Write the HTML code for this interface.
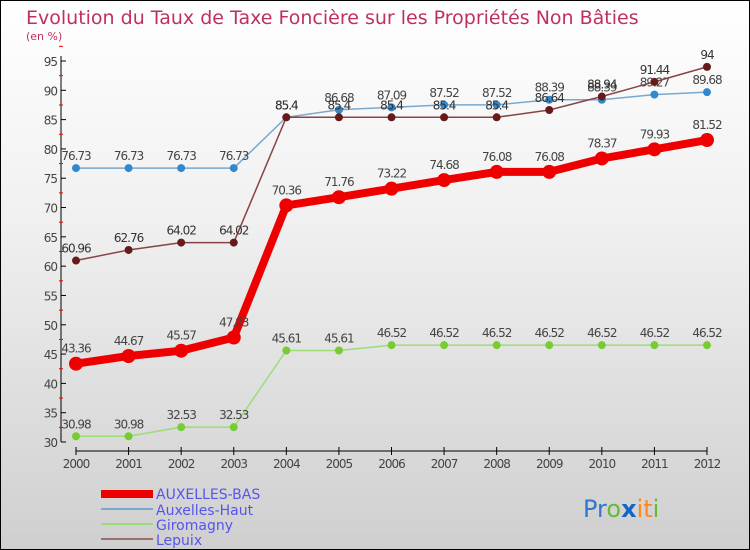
<!DOCTYPE html>
<html><head><meta charset="utf-8"><style>
body{margin:0}
#c{width:748px;height:548px;border:1px solid #000;background:linear-gradient(#fff,#f0f0f0 40%,#cfcfcf);position:relative;font-family:"DejaVu Sans","Liberation Sans",sans-serif;overflow:hidden}
svg text{font-family:"DejaVu Sans","Liberation Sans",sans-serif}
</style></head><body>
<div id="c">
<svg id="s" width="748" height="548">
<text x="25" y="23" font-size="19" fill="#c0305f">Evolution du Taux de Taxe Foncière sur les Propriétés Non Bâties</text>
<text x="25" y="39" font-size="11" fill="#c0305f">(en %)</text>
<g id="plot"></g>
<g>
<rect x="100" y="489" width="52" height="8" fill="#e00"/>
<text x="155" y="498" font-size="14" fill="#5555ee">AUXELLES-BAS</text>
<line x1="100" y1="508" x2="152" y2="508" stroke="#7aa8cc" stroke-width="2"/>
<text x="155" y="514" font-size="14" fill="#5555ee">Auxelles-Haut</text>
<line x1="100" y1="523" x2="152" y2="523" stroke="#99dd77" stroke-width="2"/>
<text x="155" y="529" font-size="14" fill="#5555ee">Giromagny</text>
<line x1="100" y1="538" x2="152" y2="538" stroke="#997070" stroke-width="2"/>
<text x="155" y="544" font-size="14" fill="#5555ee">Lepuix</text>
</g>
<text x="582" y="516" font-size="24"><tspan fill="#3377cc">Pr</tspan><tspan fill="#66bb33">o</tspan><tspan fill="#1166cc" font-weight="bold">x</tspan><tspan fill="#ff8822">it</tspan><tspan fill="#66bb33">i</tspan></text>
</svg></div>
<script>
const years=[2000,2001,2002,2003,2004,2005,2006,2007,2008,2009,2010,2011,2012];
const yTicks=[30,35,40,45,50,55,60,65,70,75,80,85,90,95];
const bas=[43.36,44.67,45.57,47.83,70.36,71.76,73.22,74.68,76.08,76.08,78.37,79.93,81.52];
const haut=[76.73,76.73,76.73,76.73,85.4,86.68,87.09,87.52,87.52,88.39,88.39,89.27,89.68];
const giro=[30.98,30.98,32.53,32.53,45.61,45.61,46.52,46.52,46.52,46.52,46.52,46.52,46.52];
const lepuix=[60.96,62.76,64.02,64.02,85.4,85.4,85.4,85.4,85.4,86.64,88.94,91.44,94];
const NS="http://www.w3.org/2000/svg";
const g=document.getElementById('plot');
const X=i=>75+i*(706-75)/12;
const Y=v=>441-(v-30)*(441-60)/65;
function el(t,a,p){const e=document.createElementNS(NS,t);for(const k in a)e.setAttribute(k,a[k]);(p||g).appendChild(e);return e;}
const ax=el('line',{x1:60,y1:55,x2:60,y2:441,stroke:'#000'});


yTicks.forEach(v=>{
 el('line',{x1:60,y1:Y(v),x2:65,y2:Y(v),stroke:'#000'});
 el('line',{x1:58,y1:Y(v+2.5),x2:62,y2:Y(v+2.5),stroke:'#e00'});
 const t=el('text',{x:56,y:Y(v)+5,'font-size':12,fill:'#444','text-anchor':'end','letter-spacing':'-1'});t.textContent=v;
 
 
});
const xa=el('line',{x1:75,y1:450,x2:706,y2:450,stroke:'#000'});


years.forEach((y,i)=>{
 el('line',{x1:X(i),y1:446,x2:X(i),y2:454,stroke:'#000'});
 const t=el('text',{x:X(i),y:467,'font-size':12,fill:'#444','text-anchor':'middle','letter-spacing':'-1'});t.textContent=y;
 
 
});
function series(d,name,col,dot,w,r,labCol){
 const p=el('polyline',{points:d.map((v,i)=>X(i)+','+Y(v)).join(' '),fill:'none',stroke:col,'stroke-width':w});
 
 
 d.forEach((v,i)=>{
  const c=el('circle',{cx:X(i),cy:Y(v),r:r,fill:dot});
  
  
  const t=el('text',{x:X(i),y:Y(v)-r-4,'font-size':12,fill:labCol,'text-anchor':'middle','letter-spacing':'-1'});t.textContent=v;
  
  
 });
}
series(giro,'giromagny','#99dd77','#77cc33',1.5,4,'#444');
series(haut,'auxelles-haut','#7aa8cc','#3388cc',1.5,4,'#444');
series(lepuix,'lepuix','#884444','#661a1a',1.5,4,'#333');
series(bas,'auxelles-bas','#ee0000','#ee0000',8,7,'#444');
</script>
</body></html>
